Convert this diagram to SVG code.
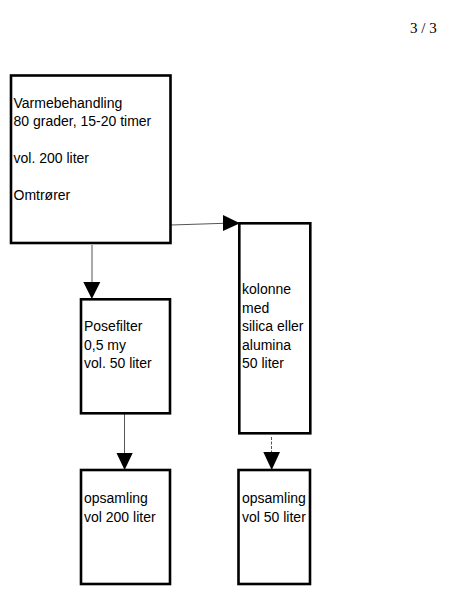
<svg xmlns="http://www.w3.org/2000/svg" width="460" height="614" viewBox="0 0 460 614">
<style>
.box{fill:#fff;stroke:#000;stroke-width:2.6}
.t{font-family:"Liberation Sans",Arial,sans-serif;font-size:14px;fill:#000}
.ln{stroke:#555;stroke-width:1;fill:none}
.ah{fill:#000}
</style>
<rect width="460" height="614" fill="#fff"/>
<text x="410" y="33" style="font-family:'Liberation Serif','Times New Roman',serif;font-size:15px;fill:#000">3 / 3</text>
<g id="connectors">
<line class="ln" x1="171" y1="225" x2="224" y2="223.3"/>
<polygon class="ah" points="223,215 240,223.3 223,231"/>
<line class="ln" x1="92" y1="245" x2="92" y2="283"/>
<polygon class="ah" points="83.3,282 100.3,282 91.8,299"/>
<line class="ln" x1="124.5" y1="414" x2="124.5" y2="454"/>
<polygon class="ah" points="116.5,453 132.7,453 124.6,470"/>
<line class="ln" x1="271.5" y1="437" x2="271.5" y2="453" stroke-dasharray="3,1.5"/>
<polygon class="ah" points="263.3,452 280,452 271.7,470"/>
</g>
<g id="varmebehandling">
<rect class="box" x="11" y="75.5" width="159.5" height="167.5"/>
<text class="t" x="13.5" y="107.5">Varmebehandling</text>
<text class="t" x="13.5" y="125.5">80 grader, 15-20 timer</text>
<text class="t" x="13.5" y="162.5">vol. 200 liter</text>
<text class="t" x="13.5" y="200">Omtrører</text>
</g>
<g id="kolonne">
<rect class="box" x="239.3" y="223.3" width="71" height="210"/>
<text class="t" x="242" y="294">kolonne</text>
<text class="t" x="242" y="312.5">med</text>
<text class="t" x="242" y="331">silica eller</text>
<text class="t" x="242" y="349.5">alumina</text>
<text class="t" x="242" y="368">50 liter</text>
</g>
<g id="posefilter">
<rect class="box" x="81" y="299.3" width="89" height="114"/>
<text class="t" x="84" y="331">Posefilter</text>
<text class="t" x="84" y="349.5">0,5 my</text>
<text class="t" x="84" y="368">vol. 50 liter</text>
</g>
<g id="opsamling1">
<rect class="box" x="81" y="470" width="89" height="114"/>
<text class="t" x="84" y="503">opsamling</text>
<text class="t" x="84" y="521.5">vol 200 liter</text>
</g>
<g id="opsamling2">
<rect class="box" x="238.5" y="470" width="71.5" height="114"/>
<text class="t" x="242" y="503">opsamling</text>
<text class="t" x="242" y="521.5">vol 50 liter</text>
</g>
</svg>
